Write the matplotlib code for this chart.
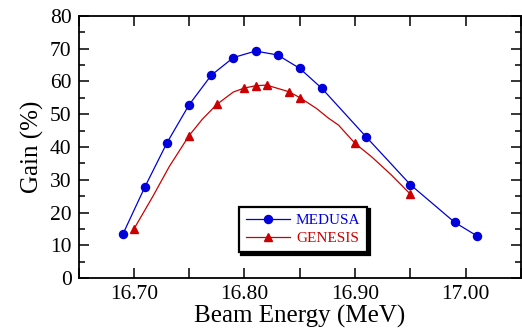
import matplotlib
matplotlib.use("Agg")
import matplotlib.pyplot as plt
import numpy as np

plt.rcParams['font.family'] = ['Liberation Serif', 'DejaVu Serif']

# MEDUSA (markers on every point)
medusa_e = [16.69, 16.71, 16.73, 16.75, 16.77, 16.79, 16.81, 16.83, 16.85,
            16.87, 16.91, 16.95, 16.99, 17.01]
medusa_g = [13.3, 27.8, 41.3, 52.9, 61.9, 67.3, 69.3, 68.1, 64.0,
            57.9, 43.1, 28.5, 17.0, 12.9]

# GENESIS curve and the marked points
genesis_e = [16.70, 16.717, 16.732, 16.75, 16.762, 16.775, 16.79, 16.80, 16.81,
             16.82, 16.84, 16.85, 16.865, 16.876, 16.885, 16.90, 16.915, 16.933, 16.95]
genesis_g = [14.9, 24.8, 34.0, 43.5, 48.5, 53.0, 56.8, 58.0, 58.7,
             58.9, 56.9, 55.1, 51.8, 48.8, 46.7, 41.1, 37.0, 31.4, 25.6]
genesis_marks = [0, 3, 5, 7, 8, 9, 10, 11, 15, 18]

blue = '#0000dd'
red = '#cc0000'

fig = plt.figure(figsize=(5.22, 3.29), dpi=100)
ax = fig.add_axes([78.5/522, 51/329, 442.5/522, 262/329])

ax.plot(medusa_e, medusa_g, '-o', color=blue, lw=0.9, ms=5.8, label='MEDUSA')
ax.plot(genesis_e, genesis_g, '-^', color=red, lw=0.9, ms=5.5,
        markevery=genesis_marks, label='GENESIS')

ax.set_xlim(16.65, 17.05)
ax.set_ylim(0, 80)
xt = np.arange(16.65, 17.051, 0.05)
ax.set_xticks(xt)
ax.set_xticklabels(['' if i % 2 == 0 else '%.2f' % v for i, v in enumerate(xt)])
ax.set_yticks(np.arange(0, 81, 10))
ax.set_yticks(np.arange(5, 80, 10), minor=True)

ax.tick_params(which='both', direction='in', top=True, right=True,
               labelsize=15.5, width=1.1, pad=5)
ax.tick_params(which='major', length=7)
ax.tick_params(which='minor', length=4)
for s in ax.spines.values():
    s.set_linewidth(1.3)

ax.set_xlabel('Beam Energy (MeV)', fontsize=18, labelpad=1)
ax.set_ylabel('Gain (%)', fontsize=18, labelpad=4)

leg = ax.legend(loc='lower left', bbox_to_anchor=(0.362, 0.098), fontsize=11,
                fancybox=False, shadow={'color': 'black', 'alpha': 1},
                handlelength=2.9, borderpad=0.45, labelspacing=0.3,
                handletextpad=0.4, borderaxespad=0)
leg.get_frame().set_edgecolor('black')
leg.get_frame().set_linewidth(1.6)
for t, c in zip(leg.get_texts(), [blue, red]):
    t.set_color(c)

fig.savefig('out.png', dpi=100)
